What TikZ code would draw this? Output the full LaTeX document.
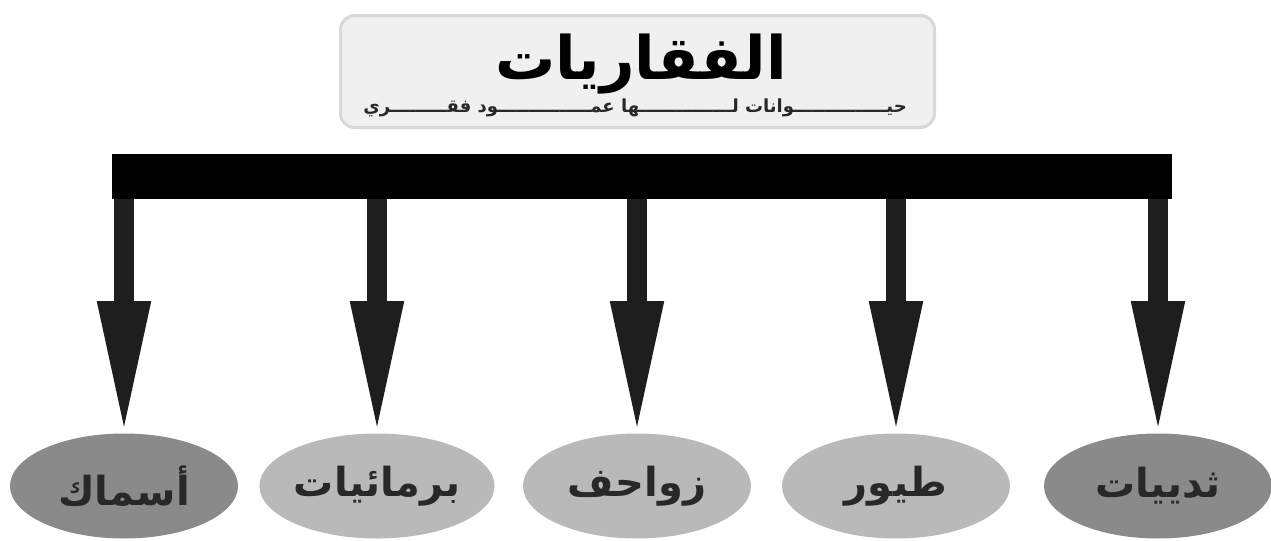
\documentclass[tikz,border=0pt]{standalone}
\usepackage{fontspec}
\newfontfamily\arabicfont[Script=Arabic]{DejaVu Sans}
\TeXXeTstate=1
\usepackage{tikz}
\usetikzlibrary{shapes.geometric,arrows.meta,positioning}
\definecolor{boxGray}{RGB}{240,240,240}
\definecolor{boxEdge}{RGB}{216,216,216}
\definecolor{darkOval}{RGB}{138,138,138}
\definecolor{lightOval}{RGB}{185,185,185}
\definecolor{shaftBlack}{RGB}{30,30,30}
\definecolor{textGray}{RGB}{40,40,40}

\begin{document}
\begin{tikzpicture}[x=0.5pt, y=-0.5pt,
        every node/.append style={font=\arabicfont\bfseries},
        oval/.style={ellipse, minimum width=114pt, minimum height=52.5pt,
          inner sep=0pt, text=textGray, font=\arabicfont\bfseries\fontsize{20}{24}\selectfont},
        arr/.style={-{Triangle[width=24pt,length=68pt]}, line width=10pt,
          shaftBlack, shorten >=-2pt}
      ]
        \useasboundingbox (0,0) rectangle (1271,541);
        % Title box
        \node[draw=boxEdge, line width=1.5pt, rounded corners=7pt, fill=boxGray,
              minimum width=297pt, minimum height=56pt]
          (head) at (637.5,71.5) {};
        \node[font=\arabicfont\bfseries\fontsize{30}{36}\selectfont]
          (title) at (641,64) {\beginR الفقاريات\endR};
        \node[font=\arabicfont\bfseries\fontsize{9}{11}\selectfont, text=textGray]
          (sub) at (635,108) {\beginR حيـــــــــــــــوانات لـــــــــــــــها عمـــــــــــــــود فقـــــــــري\endR};
        % Black bar
        \node[fill=black, minimum width=530pt, minimum height=22.5pt, inner sep=0pt]
          (bar) at (642,176.5) {};
        % Five ovals
        \node[oval, fill=darkOval] (fish) at (124,486) {\beginR أسماك\endR};
        \node[oval, fill=lightOval] (amph) at (377,486) {\beginR برمائيات\endR};
        \node[oval, fill=lightOval] (rept) at (637,486) {\beginR زواحف\endR};
        \node[oval, fill=lightOval] (bird) at (896,486) {\beginR طيور\endR};
        \node[oval, fill=darkOval] (mamm) at (1158,486) {\beginR ثدييات\endR};
        % Arrows from the bar
        \foreach \n in {fish,amph,rept,bird,mamm}
          \draw[arr] (\n.north |- bar.south) -- (\n.north);
      \end{tikzpicture}
\end{document}
